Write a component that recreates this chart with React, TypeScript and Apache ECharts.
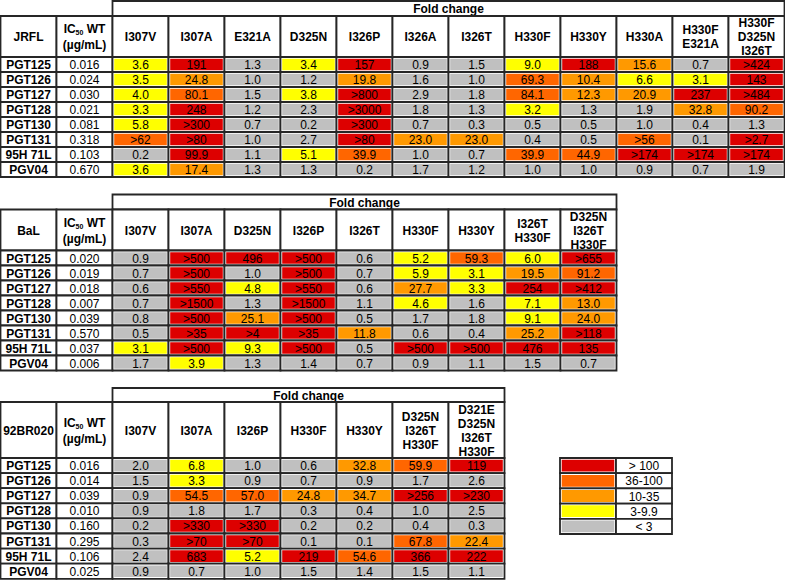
import React, { useEffect, useRef } from "react";
import * as echarts from "echarts";

const FONT = "'Liberation Sans', Arial, Helvetica, sans-serif";

const rowLabels = ["PGT125", "PGT126", "PGT127", "PGT128", "PGT130", "PGT131", "95H 71L", "PGV04"];

const levelColors: Record<string, string> = {
  R: "#dd0000",
  D: "#ff6600",
  O: "#ff9900",
  Y: "#ffff00",
  G: "#c0c0c0",
};

// ---- JRFL ----
const jrflColumns = ["I307V", "I307A", "E321A", "D325N", "I326P", "I326A", "I326T", "H330F", "H330Y", "H330A", "H330F\nE321A", "H330F\nD325N\nI326T"];
const jrflIc50 = ["0.016", "0.024", "0.030", "0.021", "0.081", "0.318", "0.103", "0.670"];
const jrflValues = [
  ["3.6", "191", "1.3", "3.4", "157", "0.9", "1.5", "9.0", "188", "15.6", "0.7", ">424"],
  ["3.5", "24.8", "1.0", "1.2", "19.8", "1.6", "1.0", "69.3", "10.4", "6.6", "3.1", "143"],
  ["4.0", "80.1", "1.5", "3.8", ">800", "2.9", "1.8", "84.1", "12.3", "20.9", "237", ">484"],
  ["3.3", "248", "1.2", "2.3", ">3000", "1.8", "1.3", "3.2", "1.3", "1.9", "32.8", "90.2"],
  ["5.8", ">300", "0.7", "0.2", ">300", "0.7", "0.3", "0.5", "0.5", "1.0", "0.4", "1.3"],
  [">62", ">80", "1.0", "2.7", ">80", "23.0", "23.0", "0.4", "0.5", ">56", "0.1", ">2.7"],
  ["0.2", "99.9", "1.1", "5.1", "39.9", "1.0", "0.7", "39.9", "44.9", ">174", ">174", ">174"],
  ["3.6", "17.4", "1.3", "1.3", "0.2", "1.7", "1.2", "1.0", "1.0", "0.9", "0.7", "1.9"],
];
const jrflLevels = [
  "YRGYRGGYROGR",
  "YOGGOGGDOYYR",
  "YDGYRGGDOORR",
  "YRGGRGGYGGOD",
  "YRGGRGGGGGGG",
  "DRGGROOGGDGR",
  "GRGYDGGDDRRR",
  "YOGGGGGGGGGG",
];

// ---- BaL ----
const balColumns = ["I307V", "I307A", "D325N", "I326P", "I326T", "H330F", "H330Y", "I326T\nH330F", "D325N\nI326T\nH330F"];
const balIc50 = ["0.020", "0.019", "0.018", "0.007", "0.039", "0.570", "0.037", "0.006"];
const balValues = [
  ["0.9", ">500", "496", ">500", "0.6", "5.2", "59.3", "6.0", ">655"],
  ["0.7", ">500", "1.0", ">500", "0.7", "5.9", "3.1", "19.5", "91.2"],
  ["0.6", ">550", "4.8", ">550", "0.6", "27.7", "3.3", "254", ">412"],
  ["0.7", ">1500", "1.3", ">1500", "1.1", "4.6", "1.6", "7.1", "13.0"],
  ["0.8", ">500", "25.1", ">500", "0.5", "1.7", "1.8", "9.1", "24.0"],
  ["0.5", ">35", ">4", ">35", "11.8", "0.6", "0.4", "25.2", ">118"],
  ["3.1", ">500", "9.3", ">500", "0.5", ">500", ">500", "476", "135"],
  ["1.7", "3.9", "1.3", "1.4", "0.7", "0.9", "1.1", "1.5", "0.7"],
];
const balLevels = [
  "GRRRGYDYR",
  "GRGRGYYOD",
  "GRYRGOYRR",
  "GRGRGYGYO",
  "GRORGGGYO",
  "GRRROGGOR",
  "YRYRGRRRR",
  "GYGGGGGGG",
];

// ---- 92BR020 ----
const br020Columns = ["I307V", "I307A", "I326P", "H330F", "H330Y", "D325N\nI326T\nH330F", "D321E\nD325N\nI326T\nH330F"];
const br020Ic50 = ["0.016", "0.014", "0.039", "0.010", "0.160", "0.295", "0.106", "0.025"];
const br020Values = [
  ["2.0", "6.8", "1.0", "0.6", "32.8", "59.9", "119"],
  ["1.5", "3.3", "0.9", "0.7", "0.9", "1.7", "2.6"],
  ["0.9", "54.5", "57.0", "24.8", "34.7", ">256", ">230"],
  ["0.9", "1.8", "1.7", "0.3", "0.4", "1.0", "2.5"],
  ["0.2", ">330", ">330", "0.2", "0.2", "0.4", "0.3"],
  ["0.3", ">70", ">70", "0.1", "0.1", "67.8", "22.4"],
  ["2.4", "683", "5.2", "219", "54.6", "366", "222"],
  ["0.9", "0.7", "1.0", "1.5", "1.4", "1.5", "1.1"],
];
const br020Levels = [
  "GYGGODR",
  "GYGGGGG",
  "GDDOORR",
  "GGGGGGG",
  "GRRGGGG",
  "GRRGGDO",
  "GRYRDRR",
  "GGGGGGG",
];

// ---- legend ----
const legendLabels = ["> 100", "36-100", "10-35", "3-9.9", "< 3"];
const legendLevels = ["R", "D", "O", "Y", "G"];

type Cell = {
  x0: number; y0: number; x1: number; y1: number;
  text: string; fill?: string; bold?: boolean; rich?: boolean; fontSize?: number;
};

function makeRenderer(cells: Cell[]) {
  return (params: any, api: any) => {
    const c = cells[params.dataIndex];
    const p0 = api.coord([api.value(0), api.value(1)]);
    const p1 = api.coord([api.value(2), api.value(3)]);
    const x = Math.min(p0[0], p1[0]);
    const y = Math.min(p0[1], p1[1]);
    const w = Math.abs(p1[0] - p0[0]);
    const h = Math.abs(p1[1] - p0[1]);
    const children: any[] = [
      { type: "rect", shape: { x, y, width: w, height: h }, style: { fill: "#ffffff", stroke: "#262626", lineWidth: 1.8 } },
    ];
    if (c.fill) {
      children.push({ type: "rect", shape: { x: x + 1.7, y: y + 1.7, width: w - 3.4, height: h - 3.4 }, style: { fill: c.fill } });
    }
    const textStyle: any = {
      text: c.text,
      align: "center",
      verticalAlign: "middle",
      fontFamily: FONT,
      fontSize: c.fontSize || 12,
      fontWeight: c.bold ? "bold" : "normal",
      fill: "#000",
      lineHeight: 14,
    };
    if (c.rich) {
      textStyle.text = "{n|IC}{s|50}{n| WT}\n{n|(µg/mL)}";
      textStyle.rich = {
        n: { fontFamily: FONT, fontSize: 12, fontWeight: "bold", lineHeight: 16, fill: "#000" },
        s: { fontFamily: FONT, fontSize: 7, fontWeight: "bold", lineHeight: 16, verticalAlign: "bottom", padding: [0, 0, 1, 0], fill: "#000" },
      };
    }
    children.push({ type: "text", x: x + w / 2, y: y + h / 2 + 0.5, style: textStyle });
    return { type: "group", children };
  };
}

function makeTable(
  idx: number,
  name: string,
  columns: string[],
  ic50: string[],
  values: string[][],
  levels: string[],
  layout: { top: number; rowH: number; hdrH: number; foldH: number; colW: number; left: number }
) {
  const nCols = columns.length + 2;
  const nRows = rowLabels.length;
  const hdr = layout.hdrH / layout.rowH;
  const fold = layout.foldH / layout.rowH;
  const cells: Cell[] = [];
  cells.push({ x0: 2, x1: nCols, y0: -(hdr + fold), y1: -hdr, text: "Fold change", bold: true });
  cells.push({ x0: 0, x1: 1, y0: -hdr, y1: 0, text: name, bold: true });
  cells.push({ x0: 1, x1: 2, y0: -hdr, y1: 0, text: "", rich: true });
  columns.forEach((col, j) => {
    cells.push({ x0: j + 2, x1: j + 3, y0: -hdr, y1: 0, text: col, bold: true });
  });
  rowLabels.forEach((lab, i) => {
    cells.push({ x0: 0, x1: 1, y0: i, y1: i + 1, text: lab, bold: true });
    cells.push({ x0: 1, x1: 2, y0: i, y1: i + 1, text: ic50[i] });
    values[i].forEach((v, j) => {
      cells.push({ x0: j + 2, x1: j + 3, y0: i, y1: i + 1, text: v, fill: levelColors[levels[i][j]] });
    });
  });
  const grid = {
    left: layout.left,
    top: layout.top,
    width: nCols * layout.colW,
    height: (nRows + hdr + fold) * layout.rowH,
    containLabel: false,
  };
  const xAxis = { type: "value", gridIndex: idx, min: 0, max: nCols, show: false };
  const yAxis = { type: "value", gridIndex: idx, min: -(hdr + fold), max: nRows, inverse: true, show: false };
  const series = {
    type: "custom",
    xAxisIndex: idx,
    yAxisIndex: idx,
    clip: false,
    silent: true,
    encode: { x: [0, 2], y: [1, 3] },
    data: cells.map((c) => [c.x0, c.y0, c.x1, c.y1]),
    renderItem: makeRenderer(cells),
  };
  return { grid, xAxis, yAxis, series };
}

function makeLegend(idx: number) {
  const cells: Cell[] = [];
  legendLabels.forEach((lab, i) => {
    cells.push({ x0: 0, x1: 1, y0: i, y1: i + 1, text: "", fill: levelColors[legendLevels[i]] });
    cells.push({ x0: 1, x1: 2, y0: i, y1: i + 1, text: lab });
  });
  const grid = { left: 560, top: 458, width: 112, height: 76, containLabel: false };
  const xAxis = { type: "value", gridIndex: idx, min: 0, max: 2, show: false };
  const yAxis = { type: "value", gridIndex: idx, min: 0, max: legendLabels.length, inverse: true, show: false };
  const series = {
    type: "custom",
    xAxisIndex: idx,
    yAxisIndex: idx,
    clip: false,
    silent: true,
    encode: { x: [0, 2], y: [1, 3] },
    data: cells.map((c) => [c.x0, c.y0, c.x1, c.y1]),
    renderItem: makeRenderer(cells),
  };
  return { grid, xAxis, yAxis, series };
}

export default function App() {
  const ref = useRef<HTMLDivElement>(null);
  useEffect(() => {
    document.body.style.margin = "0";
    if (!ref.current) return;
    const chart = echarts.init(ref.current, undefined, { renderer: "svg" });
    const parts = [
      makeTable(0, "JRFL", jrflColumns, jrflIc50, jrflValues, jrflLevels, { top: 1, rowH: 15, hdrH: 41, foldH: 15, colW: 56, left: 0.5 }),
      makeTable(1, "BaL", balColumns, balIc50, balValues, balLevels, { top: 194.5, rowH: 15, hdrH: 41, foldH: 15, colW: 56, left: 0.5 }),
      makeTable(2, "92BR020", br020Columns, br020Ic50, br020Values, br020Levels, { top: 388, rowH: 15.1, hdrH: 56, foldH: 14, colW: 56, left: 0.5 }),
      makeLegend(3),
    ];
    chart.setOption({
      animation: false,
      backgroundColor: "#ffffff",
      grid: parts.map((p) => p.grid),
      xAxis: parts.map((p) => p.xAxis),
      yAxis: parts.map((p) => p.yAxis),
      series: parts.map((p) => p.series),
    } as any);
    return () => chart.dispose();
  }, []);
  return <div ref={ref} style={{ width: 785, height: 581 }} />;
}
